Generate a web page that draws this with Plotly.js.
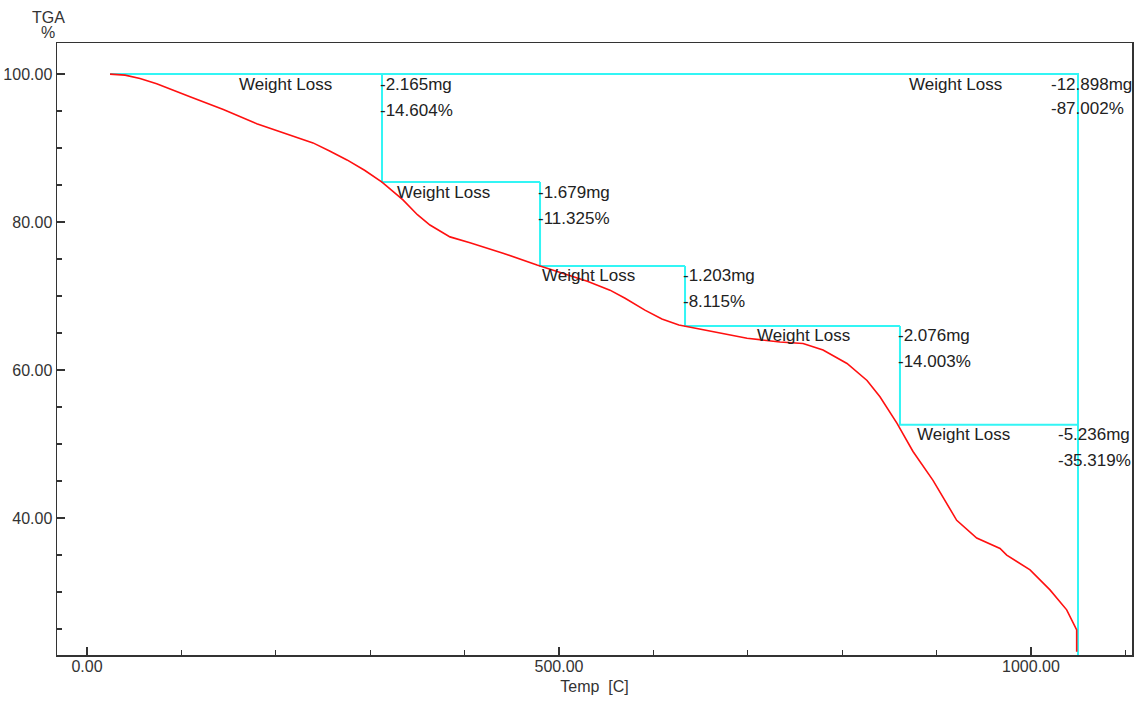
<!DOCTYPE html>
<html>
<head>
<meta charset="utf-8">
<script src="https://cdn.plot.ly/plotly-3.0.1.min.js"></script>
<style>html,body{margin:0;padding:0;background:#fff;}#chart{width:1143px;height:705px;}</style>
</head>
<body>
<div id="chart"></div>
<script>
// TGA curve: temperature [C] and weight [%]
const temps = [24.4, 40.3, 56.1, 73.8, 109.1, 144.4, 179.8, 204.4, 215, 229.1, 239.4, 257, 275.4, 294, 312.5, 334.7, 350, 363.3, 384.5, 405.7, 440.7, 476.7, 504.2, 530, 554, 570, 591, 609, 627, 663.1, 699.2, 734.1, 758.5, 779.7, 805.1, 826.3, 840, 858.1, 868.6, 875, 896.2, 921.3, 942.5, 967.2, 974.3, 999, 1020.1, 1037.8, 1048.4, 1048.4];
const weights = [100, 99.86, 99.4, 98.7, 96.94, 95.2, 93.3, 92.2, 91.76, 91.1, 90.7, 89.6, 88.4, 87.0, 85.4, 83.0, 81.0, 79.6, 78.0, 77.2, 75.8, 74.2, 73.1, 72.0, 70.8, 69.7, 68.1, 66.9, 66.1, 65.2, 64.3, 63.8, 63.6, 62.7, 60.9, 58.6, 56.4, 52.8, 50.5, 49.0, 45.1, 39.7, 37.3, 35.9, 35.0, 33.0, 30.3, 27.6, 24.9, 21.95];

// Weight-loss step analysis
const startTemp = 24.4;
const stepTemps = [312.5, 479.9, 633.5, 861.2, 1049.8];
const stepLevels = [100, 85.4, 74.07, 65.96, 52.6];
const lossMg = ['-2.165mg', '-1.679mg', '-1.203mg', '-2.076mg', '-5.236mg'];
const lossPct = ['-14.604%', '-11.325%', '-8.115%', '-14.003%', '-35.319%'];
const totalMg = '-12.898mg';
const totalPct = '-87.002%';

// Axis tick labels
const xTickVals = [0, 500, 1000];
const yTickVals = [40, 60, 80, 100];

const xRange = [-31.8, 1107];
const yRange = [21.5, 104.2];

// build cyan step path
const endTemp = stepTemps[stepTemps.length - 1];
const cx = [startTemp, endTemp, endTemp, null];
const cy = [stepLevels[0], stepLevels[0], yRange[0] - 5, null];
for (let i = 0; i < stepTemps.length - 1; i++) {
  cx.push(stepTemps[i], stepTemps[i], stepTemps[i + 1], null);
  cy.push(stepLevels[i], stepLevels[i + 1], stepLevels[i + 1], null);
}

const traces = [
  {x: cx, y: cy, mode: 'lines', line: {color: '#33f5f5', width: 2}, hoverinfo: 'skip', connectgaps: false},
  {x: temps, y: weights, mode: 'lines', line: {color: '#ff1010', width: 1.6}}
];

const FONT = 'Liberation Sans, Arial, sans-serif';
const txtFont = {family: FONT, size: 17, color: '#222'};
const ann = [];
for (let i = 0; i < stepTemps.length; i++) {
  const isLast = i === stepTemps.length - 1;
  const lvl = stepLevels[i];
  ann.push({x: stepTemps[i], y: lvl, xref: 'x', yref: 'y', text: 'Weight Loss', showarrow: false,
    xanchor: 'right', yanchor: 'middle', xshift: isLast ? -66 : -48, yshift: -10, font: txtFont});
  ann.push({x: stepTemps[i], y: lvl, xref: 'x', yref: 'y', text: lossMg[i], showarrow: false,
    xanchor: 'left', yanchor: 'middle', xshift: isLast ? -22 : -4, yshift: -10, font: txtFont});
  ann.push({x: stepTemps[i], y: lvl, xref: 'x', yref: 'y', text: lossPct[i], showarrow: false,
    xanchor: 'left', yanchor: 'middle', xshift: isLast ? -22 : -4, yshift: -36, font: txtFont});
}
// Overall
ann.push({x: endTemp, y: stepLevels[0], xref: 'x', yref: 'y', text: 'Weight Loss', showarrow: false,
  xanchor: 'right', yanchor: 'middle', xshift: -74, yshift: -10, font: txtFont});
ann.push({x: endTemp, y: stepLevels[0], xref: 'x', yref: 'y', text: totalMg, showarrow: false,
  xanchor: 'left', yanchor: 'middle', xshift: -29, yshift: -10, font: txtFont});
ann.push({x: endTemp, y: stepLevels[0], xref: 'x', yref: 'y', text: totalPct, showarrow: false,
  xanchor: 'left', yanchor: 'middle', xshift: -29, yshift: -34, font: txtFont});
// y axis title
const titleFont = {family: FONT, size: 16, color: '#333'};
ann.push({x: 0, y: 1, xref: 'paper', yref: 'paper', text: 'TGA', showarrow: false,
  xanchor: 'center', yanchor: 'middle', xshift: -9, yshift: 26, font: titleFont});
ann.push({x: 0, y: 1, xref: 'paper', yref: 'paper', text: '%', showarrow: false,
  xanchor: 'center', yanchor: 'middle', xshift: -9, yshift: 11, font: titleFont});

const axisCommon = {
  showgrid: false, zeroline: false, showline: true, linecolor: '#333', linewidth: 1.5, mirror: true,
  ticks: 'inside', ticklen: 8, tickwidth: 1.5, tickcolor: '#333',
  tickfont: {family: FONT, size: 16, color: '#333'},
  tickformat: '.2f', tickmode: 'array'
};

const layout = {
  width: 1143, height: 705,
  margin: {l: 57, r: 11, t: 43, b: 50},
  paper_bgcolor: '#fff', plot_bgcolor: '#fff',
  showlegend: false,
  xaxis: Object.assign({}, axisCommon, {
    range: xRange, tickvals: xTickVals, ticklabelstandoff: -4,
    minor: {dtick: 100, tick0: 0, ticks: 'inside', ticklen: 5, tickwidth: 1.2, tickcolor: '#333'},
    title: {text: 'Temp  [C]', standoff: 7, font: {family: FONT, size: 16, color: '#333'}}
  }),
  yaxis: Object.assign({}, axisCommon, {
    range: yRange, tickvals: yTickVals,
    minor: {dtick: 5, tick0: 0, ticks: 'inside', ticklen: 5, tickwidth: 1.2, tickcolor: '#333'}
  }),
  annotations: ann
};

Plotly.newPlot('chart', traces, layout, {staticPlot: true, displayModeBar: false});
</script>
</body>
</html>
